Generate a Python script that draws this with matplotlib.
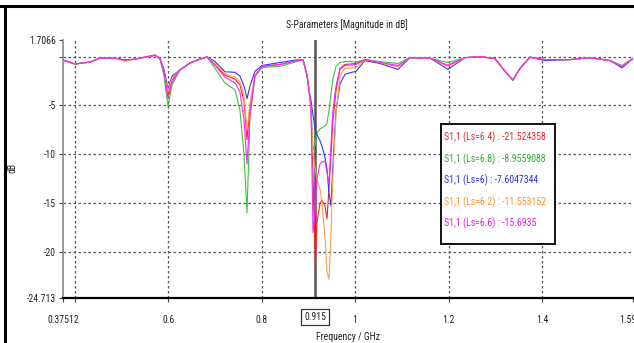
import matplotlib
matplotlib.use('Agg')
import matplotlib.pyplot as plt
from matplotlib.lines import Line2D

plt.rcParams['font.family'] = ['DejaVu Sans Condensed', 'Roboto Condensed',
                               'Liberation Sans Narrow', 'DejaVu Sans']
plt.rcParams['font.stretch'] = 'condensed'

FREQ = [0.3751, 0.4008, 0.4329, 0.4543, 0.4863, 0.5077, 0.5291, 0.5612, 0.5719, 0.5826,
        0.5912, 0.5997, 0.6083, 0.6254, 0.6468, 0.6682, 0.6832, 0.7003, 0.7217, 0.7431,
        0.7537, 0.7623, 0.7687, 0.7751, 0.7858, 0.8008, 0.8393, 0.8714, 0.8885, 0.8970,
        0.9013, 0.9056, 0.9099, 0.9150, 0.9184, 0.9248, 0.9291, 0.9355, 0.9398, 0.9441,
        0.9484, 0.9526, 0.9591, 0.9676, 0.9783, 0.9890, 1.0018, 1.0211, 1.0532, 1.0917,
        1.1174, 1.1602, 1.1986, 1.2350, 1.2671, 1.2992, 1.3206, 1.3377, 1.3527, 1.3741,
        1.4062, 1.4596, 1.5024, 1.5452, 1.5709, 1.5965]

S11_LS64 = [-0.35, -0.75, -0.55, -0.15, -0.15, -0.35, -0.25, 0.05, 0.15, -0.2,
            -1.6, -4.0, -2.4, -1.35, -0.65, -0.25, -0.03, -0.8, -1.9, -2.3,
            -2.9, -4.5, -8.5, -5.0, -1.9, -1.0, -0.8, -0.45, -0.3, -1.9,
            -3.4, -5.2, -12.0, -21.52, -17.0, -15.0, -14.7, -15.3, -16.6, -13.5,
            -10.0, -6.5, -3.5, -1.2, -0.8, -0.75, -0.7, -0.3, -0.6, -1.0,
            -0.1, -0.15, -0.9, -0.1, 0.0, -0.2, -1.5, -2.4, -1.2, -0.05,
            -0.3, -0.3, -0.1, -0.4, -1.0, -0.1]
S11_LS68 = [-0.35, -0.75, -0.55, -0.15, -0.15, -0.45, -0.25, 0.05, 0.15, -0.2,
            -2.0, -5.1, -2.9, -1.35, -0.65, -0.25, -0.03, -1.2, -2.7, -3.4,
            -5.5, -10.0, -16.0, -6.0, -2.0, -1.1, -1.0, -0.55, -0.3, -1.9,
            -3.4, -5.2, -9.5, -8.96, -7.8, -7.4, -7.3, -7.1, -6.8, -5.5,
            -3.8, -2.3, -1.0, -0.6, -0.5, -0.5, -0.55, -0.3, -0.5, -0.7,
            -0.1, -0.15, -0.6, -0.1, 0.0, -0.2, -1.5, -2.4, -1.2, -0.05,
            -0.3, -0.3, -0.1, -0.4, -0.9, -0.1]
S11_LS60 = [-0.35, -0.75, -0.55, -0.15, -0.15, -0.35, -0.25, 0.05, 0.15, -0.2,
            -1.3, -3.3, -2.0, -1.35, -0.65, -0.25, -0.03, -0.5, -1.55, -1.6,
            -2.0, -3.0, -4.3, -3.0, -1.5, -0.9, -0.6, -0.35, -0.3, -1.9,
            -3.4, -4.5, -6.0, -7.60, -8.0, -8.6, -9.2, -10.3, -11.5, -14.0,
            -15.3, -11.0, -5.5, -2.8, -1.8, -1.65, -1.5, -0.4, -0.7, -1.3,
            -0.1, -0.15, -1.3, -0.1, 0.0, -0.2, -1.5, -2.4, -1.2, -0.05,
            -0.4, -0.3, -0.1, -0.4, -1.15, -0.1]
S11_LS62 = [-0.35, -0.75, -0.55, -0.15, -0.15, -0.45, -0.25, 0.05, 0.15, -0.2,
            -1.6, -3.6, -2.2, -1.35, -0.65, -0.25, -0.03, -0.7, -1.75, -2.1,
            -2.6, -4.0, -7.5, -4.8, -1.9, -1.0, -0.8, -0.45, -0.3, -1.9,
            -3.4, -5.2, -10.0, -11.55, -12.6, -13.5, -15.0, -18.5, -22.0, -22.8,
            -18.0, -12.0, -6.0, -2.0, -1.2, -1.2, -1.1, -0.3, -0.6, -1.0,
            -0.1, -0.15, -1.0, -0.1, 0.0, -0.2, -1.5, -2.4, -1.2, -0.05,
            -0.3, -0.3, -0.1, -0.4, -1.0, -0.1]
S11_LS66 = [-0.35, -0.75, -0.55, -0.15, -0.15, -0.35, -0.25, 0.05, 0.15, -0.2,
            -1.6, -4.3, -2.6, -1.35, -0.65, -0.25, -0.03, -0.9, -2.1, -2.7,
            -3.6, -6.5, -11.0, -6.0, -2.0, -1.0, -0.8, -0.45, -0.3, -1.9,
            -3.4, -5.2, -18.0, -15.69, -12.5, -11.0, -10.8, -10.7, -11.8, -13.0,
            -9.0, -5.5, -3.0, -1.3, -0.9, -0.85, -0.8, -0.3, -0.6, -0.9,
            -0.1, -0.15, -0.9, -0.1, 0.0, -0.2, -1.5, -2.4, -1.2, -0.05,
            -0.3, -0.3, -0.1, -0.4, -1.0, -0.1]

SERIES = [
    ('S1,1 (Ls=6.4) : -21.524358', S11_LS64, '#ff2020', '#e52a2a'),
    ('S1,1 (Ls=6.8) : -8.9559088', S11_LS68, '#3cc43c', '#2faa2f'),
    ('S1,1 (Ls=6) : -7.6047344', S11_LS60, '#3535ff', '#3030e0'),
    ('S1,1 (Ls=6.2) : -11.553152', S11_LS62, '#ffa04a', '#ff9030'),
    ('S1,1 (Ls=6.6) : -15.6935', S11_LS66, '#ff20ff', '#ee10ee'),
]

X_MIN, X_MAX = 0.37512, 1.5944
Y_MIN, Y_MAX = -24.713, 1.7066
MARKER_F = 0.915
FS = 7

fig = plt.figure(figsize=(6.34, 3.43), dpi=100)
ax = fig.add_axes([63 / 634, 45 / 343, 570 / 634, 258 / 343])

for label, vals, color, _ in SERIES:
    ax.plot(FREQ, vals, color=color, lw=0.8, zorder=3)

ax.set_xlim(X_MIN, X_MAX)
ax.set_ylim(Y_MIN, Y_MAX)

# dotted grid
for gx in [0.4, 0.6, 0.8, 1.0, 1.2, 1.4]:
    ax.axvline(gx, color='#555555', lw=0.9, ls=(0, (2, 2)), zorder=1)
for gy in [0, -5, -10, -15, -20]:
    ax.axhline(gy, color='#555555', lw=0.9, ls=(0, (2, 2)), zorder=1)

ax.set_xticks([X_MIN, 0.4, 0.6, 0.8, 1.0, 1.2, 1.4, X_MAX])
ax.set_xticklabels(['0.37512', '', '0.6', '0.8', '1', '1.2', '1.4', '1.5944'])
ax.set_yticks([Y_MAX, 0, -5, -10, -15, -20, Y_MIN])
ax.set_yticklabels(['1.7066', '', '-5', '-10', '-15', '-20', '-24.713'])
ax.tick_params(axis='both', labelsize=FS, length=3, width=0.8, color='#444444',
               labelcolor='#222222')
ax.tick_params(axis='x', pad=9)
ax.tick_params(axis='y', pad=2)

for side in ['top', 'right']:
    ax.spines[side].set_visible(False)
ax.spines['left'].set_color('#888888')
ax.spines['left'].set_linewidth(1.2)
ax.spines['bottom'].set_color('black')
ax.spines['bottom'].set_linewidth(1.6)

# marker at 0.915 GHz (behind the curves)
ax.axvline(MARKER_F, color='#555555', lw=1.8, zorder=2)
ax.annotate('0.915', xy=(MARKER_F, 0), xycoords=('data', 'axes fraction'),
            xytext=(0, -10), textcoords='offset points', ha='center', va='top',
            fontsize=FS, color='#222222',
            bbox=dict(boxstyle='square,pad=0.3', fc='white', ec='#333333', lw=0.9))

# legend box with values at marker
box_ax = fig.add_axes([441 / 634, 1 - 244 / 343, 114 / 634, 120 / 343])
box_ax.set_xticks([])
box_ax.set_yticks([])
for sp in box_ax.spines.values():
    sp.set_linewidth(1.4)
    sp.set_color('#111111')
for i, (label, _, _, tcolor) in enumerate(SERIES):
    box_ax.text(0.025, 0.89 - i * 0.18, label, color=tcolor, fontsize=FS,
                transform=box_ax.transAxes, ha='left', va='center')

fig.text(347 / 634, 1 - 25 / 343, 'S-Parameters [Magnitude in dB]', ha='center',
         va='center', fontsize=FS, color='#222222')
fig.text(348 / 634, 1 - 337 / 343, 'Frequency / GHz', ha='center', va='center',
         fontsize=FS, color='#222222')
fig.text(12 / 634, 1 - 168 / 343, 'dB', ha='center', va='center', rotation=90,
         fontsize=FS, color='#222222')

# window frame (top and left edges)
fig.add_artist(Line2D([0, 1], [1 - 5.5 / 343, 1 - 5.5 / 343], color='black', lw=2.2,
                      transform=fig.transFigure))
fig.add_artist(Line2D([4.5 / 634, 4.5 / 634], [0, 1 - 5.5 / 343], color='black', lw=2.2,
                      transform=fig.transFigure))

fig.savefig('out.png', dpi=100)
